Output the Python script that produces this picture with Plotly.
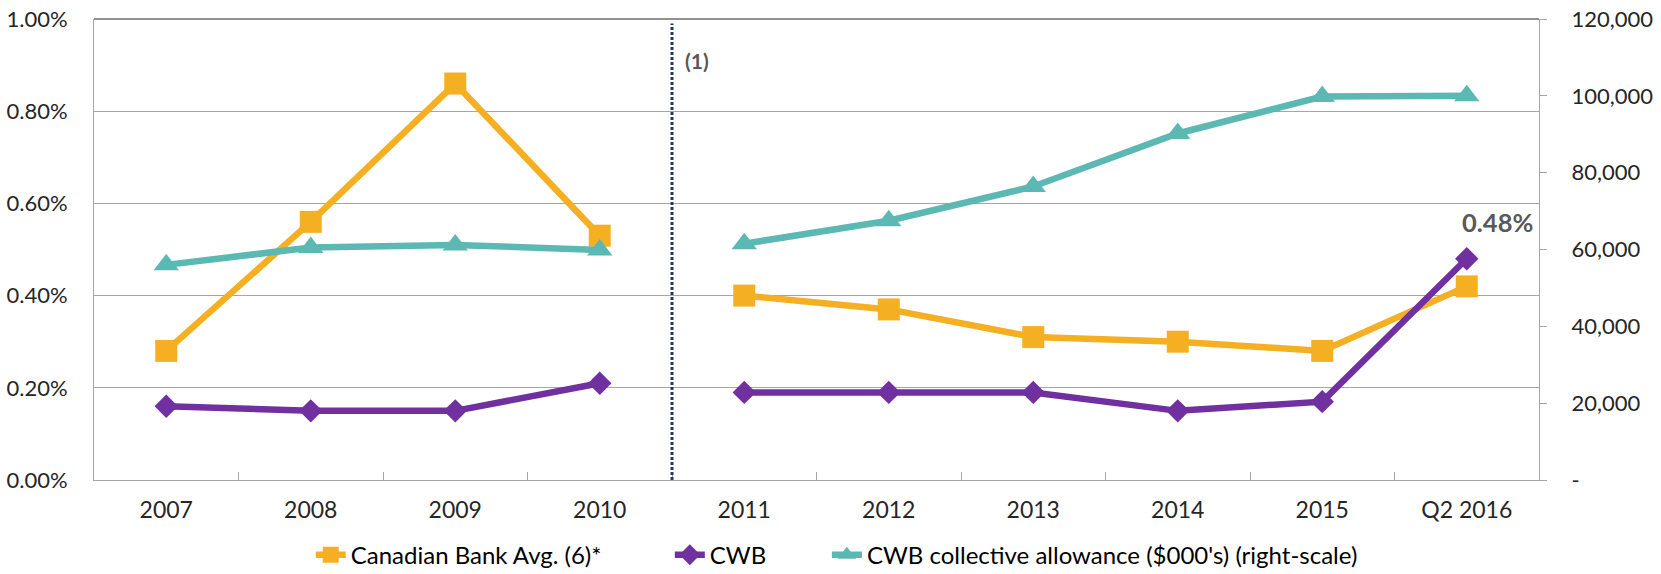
import plotly.graph_objects as go

categories = ["2007", "2008", "2009", "2010", "2011", "2012", "2013", "2014", "2015", "Q2 2016"]
canadian_avg = [0.28, 0.56, 0.86, 0.53, 0.40, 0.37, 0.31, 0.30, 0.28, 0.42]   # percent
cwb = [0.16, 0.15, 0.15, 0.21, 0.19, 0.19, 0.19, 0.15, 0.17, 0.48]            # percent
allowance = [56000, 60500, 61200, 59900, 61500, 67500, 76400, 90200, 99800, 100000]  # $000's

right_tickvals = [0, 20000, 40000, 60000, 80000, 100000, 120000]
right_ticktext = ["-", "20,000", "40,000", "60,000", "80,000", "100,000", "120,000"]

split = 4  # series break between 2010 and 2011

FONT = "Lato"
ORANGE = "#F5AF23"
PURPLE = "#7030A0"
TEAL = "#5BB8B2"
GRID = "#A6A6A6"

fig = go.Figure()

series = [
    ("Canadian Bank Avg. (6)*", [v / 100 for v in canadian_avg], ORANGE, "square", 22, "y", "legend"),
    ("CWB", [v / 100 for v in cwb], PURPLE, "diamond", 18, "y", "legend2"),
    ("CWB collective allowance ($000's) (right-scale)", allowance, TEAL, "triangle-up", 22, "y2", "legend3"),
]

for name, vals, color, sym, size, yax, leg in series:
    for i, (xs, ys) in enumerate([(categories[:split], vals[:split]), (categories[split:], vals[split:])]):
        fig.add_trace(go.Scatter(
            x=xs, y=ys, name=name, legendgroup=name, showlegend=(i == 0), legend=leg,
            mode="lines+markers", yaxis=yax,
            line=dict(color=color, width=6.5),
            marker=dict(symbol=sym, size=size, color=color),
            cliponaxis=False,
        ))

fig.add_shape(type="line", xref="x", yref="y", x0=split - 0.5, x1=split - 0.5, y0=0, y1=0.0099,
              line=dict(color="#1F3864", width=3, dash="3px,2px"))
fig.add_shape(type="line", xref="paper", yref="paper", x0=0, x1=1, y0=1, y1=1,
              line=dict(color="#6E6E6E", width=1.5))

fig.add_annotation(xref="x", yref="paper", x=split - 0.5, y=0.9425, text="<b>(1)</b>",
                   showarrow=False, xshift=25, font=dict(family=FONT, size=21, color="#595959"))
fig.add_annotation(xref="x", yref="y", x=categories[-1], y=cwb[-1] / 100,
                   text=f"<b>{cwb[-1]:.2f}%</b>", showarrow=False, xshift=31, yshift=37,
                   font=dict(family=FONT, size=25.5, color="#595959"))

legend_common = dict(orientation="h", xanchor="left", y=-0.163, yanchor="middle",
                     font=dict(family=FONT, size=24, color="#000000"), bgcolor="rgba(0,0,0,0)")

fig.update_layout(
    width=1661, height=574,
    margin=dict(l=94, r=122, t=19, b=94, autoexpand=False),
    paper_bgcolor="white", plot_bgcolor="white",
    font=dict(family=FONT, size=22, color="#262626"),
    showlegend=True,
    legend=dict(x=0.150, **legend_common),
    legend2=dict(x=0.3985, **legend_common),
    legend3=dict(x=0.5072, **legend_common),
    xaxis=dict(type="category", range=[-0.5, 9.5], showline=True, linecolor=GRID, linewidth=1,
               ticks="inside", tickson="boundaries", ticklen=8, tickcolor=GRID,
               showgrid=False, ticklabelstandoff=9, tickfont=dict(size=23)),
    yaxis=dict(range=[0, 0.01], dtick=0.002, tickformat=".2%", showgrid=True, gridcolor=GRID,
               gridwidth=1, showline=True, linecolor=GRID, zeroline=False, ticks="",
               ticklabelstandoff=21, tickfont=dict(size=22)),
    yaxis2=dict(overlaying="y", side="right", range=[0, 120000], tickvals=right_tickvals,
                ticktext=right_ticktext, showgrid=False, zeroline=False, showline=True,
                linecolor=GRID, ticks="outside", ticklen=7, tickcolor=GRID,
                ticklabelstandoff=20, tickfont=dict(size=22)),
)

fig.write_html("out.html")
